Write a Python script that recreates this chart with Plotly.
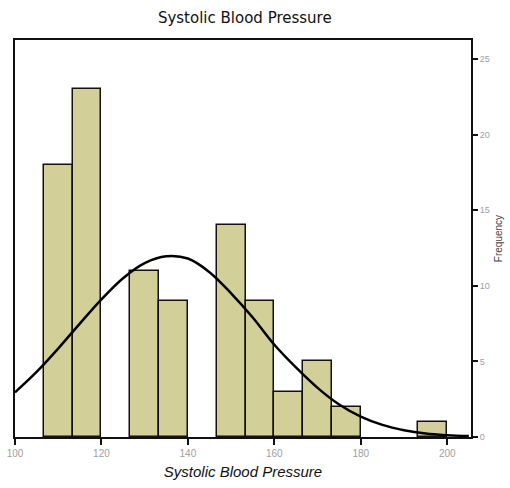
import plotly.graph_objects as go

# Histogram bins (width 20/3)
bin_left = [106.667, 113.333, 120.0, 126.667, 133.333, 140.0, 146.667,
            153.333, 160.0, 166.667, 173.333, 180.0, 186.667, 193.333]
bin_width = 20 / 3
counts = [18, 23, 0, 11, 9, 0, 14, 9, 3, 5, 2, 0, 0, 1]

# Normal curve points
curve_x = [100, 105, 110, 115, 120, 125, 130, 135, 140, 145, 150,
           155, 160, 165, 170, 175, 180, 185, 190, 195, 200, 205]
curve_y = [2.95, 4.3, 5.85, 7.5, 9.1, 10.5, 11.5, 11.95, 11.8, 10.9, 9.5,
           7.9, 6.1, 4.6, 3.25, 2.15, 1.35, 0.8, 0.45, 0.23, 0.12, 0.06]

x_ticks = [100, 120, 140, 160, 180, 200]
y_ticks = [0, 5, 10, 15, 20, 25]

centers = [b + bin_width / 2 for b in bin_left]
bx = [c for c, n in zip(centers, counts) if n > 0]
by = [n for n in counts if n > 0]

fig = go.Figure()
fig.add_trace(go.Bar(
    x=bx, y=by, width=bin_width,
    marker=dict(color="#d3cf98", line=dict(color="#111111", width=1.5)),
    showlegend=False, hoverinfo="x+y",
))
fig.add_trace(go.Scatter(
    x=curve_x, y=curve_y, mode="lines", line=dict(color="black", width=2.5, shape="spline"),
    showlegend=False,
))

fig.update_layout(
    width=510, height=488,
    margin=dict(l=15, r=39, t=40, b=51, autoexpand=False),
    paper_bgcolor="white", plot_bgcolor="white",
    bargap=0,
    title=dict(text="Systolic Blood Pressure", x=0.48, xanchor="center",
               y=0.963, yanchor="middle",
               font=dict(family="DejaVu Sans", size=15, color="#111111")),
    font=dict(family="Liberation Sans"),
)
fig.update_xaxes(
    range=[100, 205.5], tickvals=x_ticks, ticktext=[str(v) for v in x_ticks],
    showline=True, linecolor="#111111", linewidth=2, mirror=True,
    ticks="outside", ticklen=6, tickwidth=1.5, tickcolor="#111111",
    tickfont=dict(size=10, color="#a0a0a0"), showgrid=False, zeroline=False,
    automargin=False,
    title=dict(text="Systolic Blood Pressure", standoff=8,
               font=dict(family="Liberation Sans", size=15, color="#111111", style="italic")),
)
fig.update_yaxes(
    side="right", range=[0, 26.25], tickvals=y_ticks, ticktext=[str(v) for v in y_ticks],
    showline=True, linecolor="#111111", linewidth=2, mirror=True,
    ticks="outside", ticklen=5, tickwidth=1.5, tickcolor="#111111",
    tickfont=dict(size=9, color="#a0a0a0"), showgrid=False, zeroline=False,
    automargin=False,
    title=dict(text="Frequency", standoff=6, font=dict(size=10, color="#444444")),
)

fig.write_html("out.html")
